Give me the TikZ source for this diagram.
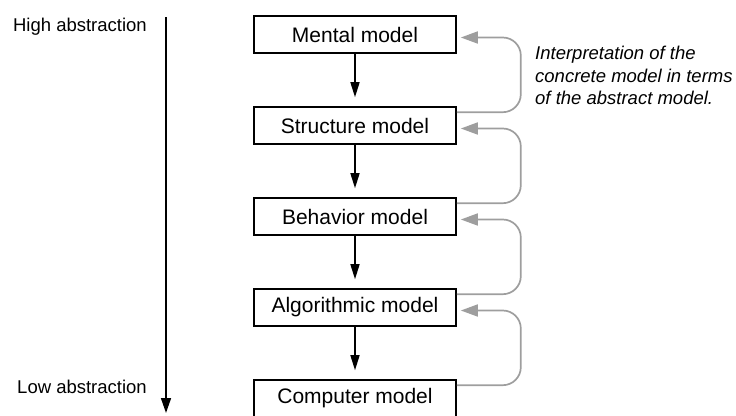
\documentclass[tikz,border=0pt]{standalone}
\usepackage{fontspec}
\setmainfont{Liberation Sans}
\usetikzlibrary{arrows.meta,calc}
\definecolor{linkgray}{RGB}{158,158,158}
\begin{document}
\begin{tikzpicture}[x=1pt,y=-1pt,
  modelbox/.style={draw=black, line width=1.6pt, minimum width=202pt, minimum height=37pt,
    inner sep=0pt, font=\fontsize{21}{25}\selectfont},
  refine/.style={draw=black, line width=1.6pt, -{Triangle[length=15pt,width=9pt]}, shorten >=9pt},
  interp/.style={draw=linkgray, line width=1.7pt, rounded corners=18pt,
    -{Triangle[length=17pt,width=12pt]}},
  axislabel/.style={anchor=base east, inner sep=0pt, font=\fontsize{18.5}{22}\selectfont},
  note/.style={anchor=north west, inner sep=0pt, align=left,
    font=\fontsize{18.5}{22.5}\selectfont\itshape}]
\useasboundingbox (0,0) rectangle (736,415);

% abstraction axis
\coordinate (axtop) at (166,17);
\coordinate (axbot) at (166,413);
\draw[line width=1.6pt, -{Triangle[length=15pt,width=10pt]}] (axtop) -- (axbot);
\node[axislabel] (hi) at (147,31) {High abstraction};
\node[axislabel] (lo) at (147,393) {Low abstraction};

% model levels
\node[modelbox] (m1) at (355,34.5) {Mental model};
\node[modelbox] (m2) at (355,125.5) {Structure model};
\node[modelbox] (m3) at (355,216.5) {Behavior model};
\node[modelbox] (m4) at (355,307.5) {Algorithmic model};
\node[modelbox] (m5) at (355,398.5) {Computer model};

% refinement steps
\foreach \a/\b in {m1/m2, m2/m3, m3/m4, m4/m5}
  \draw[refine] (\a.south) -- (\b.north);

% interpretation links
\foreach \a/\b in {m2/m1, m3/m2, m4/m3, m5/m4}
  \draw[interp] ($(\a.north east)+(0,6)$) -- ++(64,0) |- ($(\b.east)+(4,3)$);

\node[note] (txt) at (535,46) {Interpretation of the\\concrete model in terms\\of the abstract model.};
\end{tikzpicture}
\end{document}
